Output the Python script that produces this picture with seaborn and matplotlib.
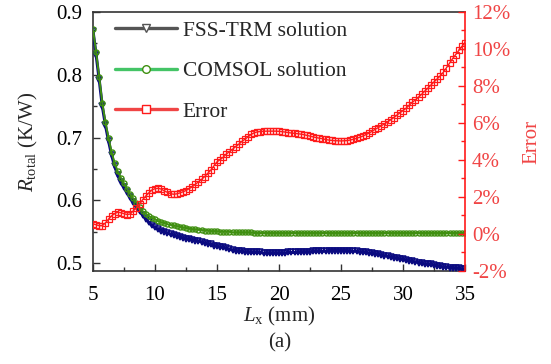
import numpy as np
import pandas as pd
import matplotlib
matplotlib.use("Agg")
import matplotlib.pyplot as plt
from matplotlib.lines import Line2D
from matplotlib.ticker import MultipleLocator, FuncFormatter
import seaborn as sns

# ---- data ----
lx_mm = np.linspace(5, 35, 121)  # sampling grid, step 0.25 mm

fss_trm = [
    0.870, 0.832, 0.792, 0.750, 0.720, 0.695, 0.672, 0.654,
    0.640, 0.630, 0.621, 0.613, 0.605, 0.598, 0.591, 0.583,
    0.577, 0.571, 0.565, 0.560, 0.557, 0.554, 0.552, 0.550,
    0.548, 0.546, 0.545, 0.543, 0.542, 0.540, 0.539, 0.538,
    0.537, 0.536, 0.535, 0.534, 0.532, 0.531, 0.530, 0.528,
    0.527, 0.526, 0.525, 0.524, 0.522, 0.521, 0.520, 0.519,
    0.519, 0.518, 0.518, 0.517, 0.517, 0.517, 0.517, 0.516,
    0.516, 0.516, 0.516, 0.516, 0.516, 0.516, 0.516, 0.517,
    0.517, 0.517, 0.517, 0.518, 0.518, 0.518, 0.518, 0.519,
    0.519, 0.519, 0.519, 0.519, 0.520, 0.520, 0.520, 0.520,
    0.520, 0.520, 0.520, 0.519, 0.519, 0.519, 0.518, 0.518,
    0.517, 0.516, 0.516, 0.515, 0.514, 0.513, 0.512, 0.511,
    0.510, 0.509, 0.508, 0.507, 0.506, 0.505, 0.504, 0.503,
    0.502, 0.501, 0.500, 0.499, 0.498, 0.498, 0.497, 0.496,
    0.495, 0.494, 0.494, 0.493, 0.493, 0.492, 0.492, 0.491,
    0.490,
]

comsol = [
    0.873, 0.836, 0.797, 0.755, 0.725, 0.700, 0.677, 0.659,
    0.646, 0.636, 0.627, 0.618, 0.610, 0.603, 0.596, 0.589,
    0.583, 0.579, 0.575, 0.572, 0.570, 0.567, 0.565, 0.564,
    0.562, 0.561, 0.560, 0.559, 0.558, 0.557, 0.556, 0.555,
    0.554, 0.554, 0.553, 0.553, 0.552, 0.552, 0.551, 0.551,
    0.551, 0.550, 0.550, 0.550, 0.550, 0.549, 0.549, 0.549,
    0.549, 0.549, 0.549, 0.549, 0.548, 0.548, 0.548, 0.548,
    0.548, 0.548, 0.548, 0.548, 0.548, 0.548, 0.548, 0.548,
    0.548, 0.548, 0.548, 0.548, 0.548, 0.548, 0.548, 0.548,
    0.548, 0.548, 0.548, 0.548, 0.548, 0.548, 0.548, 0.548,
    0.548, 0.548, 0.548, 0.548, 0.548, 0.548, 0.548, 0.548,
    0.548, 0.548, 0.548, 0.548, 0.548, 0.548, 0.548, 0.548,
    0.548, 0.548, 0.548, 0.548, 0.548, 0.548, 0.548, 0.548,
    0.548, 0.548, 0.548, 0.548, 0.548, 0.548, 0.548, 0.548,
    0.548, 0.548, 0.548, 0.548, 0.548, 0.548, 0.548, 0.548,
    0.548,
]

error_pct = [
    0.55, 0.50, 0.45, 0.45, 0.60, 0.80, 0.98, 1.10,
    1.18, 1.15, 1.10, 1.05, 1.08, 1.25, 1.42, 1.62,
    1.85, 2.05, 2.22, 2.38, 2.45, 2.47, 2.43, 2.33,
    2.25, 2.18, 2.15, 2.17, 2.22, 2.28, 2.35, 2.45,
    2.55, 2.68, 2.82, 2.95, 3.10, 3.28, 3.45, 3.68,
    3.90, 4.02, 4.15, 4.32, 4.45, 4.58, 4.72, 4.85,
    5.00, 5.12, 5.25, 5.38, 5.47, 5.52, 5.54, 5.55,
    5.56, 5.56, 5.56, 5.56, 5.55, 5.53, 5.51, 5.48,
    5.46, 5.44, 5.42, 5.40, 5.37, 5.33, 5.29, 5.25,
    5.21, 5.18, 5.15, 5.11, 5.08, 5.06, 5.04, 5.04,
    5.03, 5.04, 5.05, 5.08, 5.12, 5.17, 5.23, 5.29,
    5.37, 5.45, 5.55, 5.66, 5.75, 5.85, 5.95, 6.05,
    6.17, 6.29, 6.42, 6.55, 6.67, 6.80, 6.96, 7.12,
    7.25, 7.40, 7.55, 7.72, 7.88, 8.05, 8.22, 8.38,
    8.55, 8.74, 8.98, 9.23, 9.48, 9.70, 9.92, 10.14,
    10.35,
]

series_labels = ["FSS-TRM solution", "COMSOL solution", "Error"]
x_label = r"$L_{\rm x}$ (mm)"
y_label = r"$R_{\rm total}$ (K/W)"
y2_label = "Error"
caption = "(a)"

# ---- style ----
sns.set_style("ticks")
plt.rcParams["font.family"] = ["Liberation Serif", "DejaVu Serif"]
plt.rcParams["mathtext.fontset"] = "custom"
plt.rcParams["mathtext.rm"] = "Liberation Serif"
plt.rcParams["mathtext.it"] = "Liberation Serif:italic"
plt.rcParams["axes.unicode_minus"] = False

FS = 15
FS_LEG = 15.5
DARK = "#333333"
NAVY = "#0a0a80"
OLIVE = "#3f8f10"
RED = "#ff1a1a"
RED_TXT = "#f04545"

df = pd.DataFrame({"lx": lx_mm, "fss": fss_trm, "comsol": comsol, "err": error_pct})

fig = plt.figure(figsize=(5.51, 3.64), dpi=100)
ax = fig.add_axes([93 / 551, 1 - 271 / 364, (465 - 93) / 551, (271 - 12) / 364])
ax2 = ax.twinx()

sns.lineplot(data=df, x="lx", y="fss", ax=ax, color=NAVY, lw=2.2, marker="v",
             markersize=4.0, markerfacecolor="none", markeredgecolor=NAVY,
             markeredgewidth=1.1, legend=False, zorder=3)
sns.lineplot(data=df, x="lx", y="comsol", ax=ax, color=OLIVE, lw=1.4, marker="o",
             markersize=3.6, markerfacecolor="none", markeredgecolor=OLIVE,
             markeredgewidth=1.0, legend=False, zorder=4)
sns.lineplot(data=df, x="lx", y="err", ax=ax2, color=RED, lw=1.0, marker="s",
             markersize=3.8, markerfacecolor="none", markeredgecolor=RED,
             markeredgewidth=0.9, legend=False, zorder=3)

ax.set_xlim(5, 35)
ax.set_ylim(0.4875, 0.9)
ax2.set_ylim(-2, 12.0)

ax.xaxis.set_major_locator(MultipleLocator(5))
ax.xaxis.set_minor_locator(MultipleLocator(2.5))
ax.yaxis.set_major_locator(MultipleLocator(0.1))
ax.yaxis.set_minor_locator(MultipleLocator(0.05))
ax.yaxis.set_major_formatter(FuncFormatter(lambda v, p: f"{v:.1f}"))
ax2.yaxis.set_major_locator(MultipleLocator(2))
ax2.yaxis.set_minor_locator(MultipleLocator(1))
ax2.yaxis.set_major_formatter(FuncFormatter(lambda v, p: f"{v:.0f}%"))

ax.tick_params(axis="both", which="both", direction="in", colors=DARK,
               labelcolor="black", labelsize=FS, width=1.0, top=False, right=False)
ax.tick_params(which="major", length=5)
ax.tick_params(which="minor", length=3)
ax.tick_params(axis="x", pad=11)
ax.tick_params(axis="y", pad=8)
ax2.tick_params(axis="y", which="both", direction="in", colors=RED,
                labelcolor=RED_TXT, labelsize=FS, width=1.0, pad=5)
ax2.tick_params(which="major", length=5)
ax2.tick_params(which="minor", length=3)

for s in ["left", "bottom", "top"]:
    ax.spines[s].set_color(DARK)
    ax.spines[s].set_linewidth(1.2)
ax.spines["right"].set_visible(False)
for s in ["left", "bottom", "top"]:
    ax2.spines[s].set_visible(False)
ax2.spines["right"].set_color(RED)
ax2.spines["right"].set_linewidth(1.2)

ax.set_xlabel(x_label, fontsize=FS, labelpad=0)
ax.set_ylabel(y_label, fontsize=FS, labelpad=11)
ax2.set_ylabel(y2_label, fontsize=FS, color=RED_TXT, labelpad=9)

handles = [
    Line2D([], [], color="#555555", lw=2.4, marker="v", markersize=5.5,
           markerfacecolor="white", markeredgecolor="#555555"),
    Line2D([], [], color="#44c466", lw=2.4, marker="o", markersize=5.5,
           markerfacecolor="white", markeredgecolor=OLIVE),
    Line2D([], [], color="#f04545", lw=2.4, marker="s", markersize=5.5,
           markerfacecolor="white", markeredgecolor=RED),
]
leg = ax2.legend(handles, series_labels, loc="upper left", frameon=False,
                 fontsize=FS_LEG, handlelength=2.9, labelspacing=0.95,
                 handletextpad=0.25, borderaxespad=0.0,
                 bbox_to_anchor=(0.036, 1.0))

fig.text(280 / 551, 1 - 343 / 364, caption, ha="center", va="center", fontsize=FS)

fig.savefig("out.png", dpi=100)
